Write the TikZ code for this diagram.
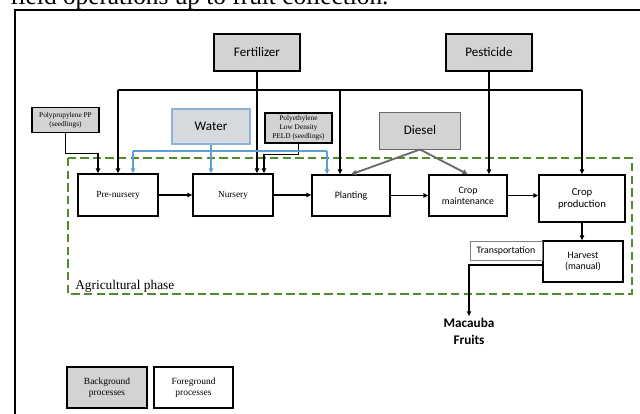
\documentclass[tikz,border=0pt]{standalone}
\usepackage{fontspec}
\setmainfont{Liberation Serif}
\setsansfont{Carlito}
\usepackage{tikz}
\usetikzlibrary{arrows.meta}
\definecolor{bggray}{RGB}{211,211,211}
\definecolor{wfill}{RGB}{214,217,221}
\definecolor{wdraw}{RGB}{140,178,212}
\definecolor{wline}{RGB}{92,160,210}
\definecolor{dgray}{RGB}{105,105,105}
\definecolor{phasegreen}{RGB}{80,140,42}

\begin{document}
\begin{tikzpicture}[x=0.025cm, y=-0.025cm,
        bgbox/.style={draw, fill=bggray, line width=0.9pt, inner sep=1pt, align=center},
        fgbox/.style={draw, fill=white, line width=0.9pt, inner sep=1pt, align=center},
        sfbig/.style={font=\sffamily\fontsize{9.3}{11}\selectfont},
        sfsmall/.style={font=\sffamily\fontsize{7}{7.8}\selectfont},
        rmsmall/.style={font=\fontsize{6.6}{7.8}\selectfont},
        rmtiny/.style={font=\fontsize{5.2}{6.3}\selectfont},
        conn/.style={line width=0.9pt},
        arr/.style={conn, -{Triangle[length=3.5pt,width=3pt]}},
        warr/.style={wline, line width=0.8pt, -{Triangle[length=3.5pt,width=3pt]}},
        darr/.style={dgray, line width=1.3pt, -{Triangle[length=4pt,width=3.5pt]}},
        phase/.style={phasegreen, line width=1.5pt, dash pattern=on 6pt off 3pt}
                            ]
        \useasboundingbox (0,0) rectangle (640,414);
        % caption line, cut by the page
        \node[anchor=base west, inner sep=0pt, font=\fontsize{18}{18}\selectfont] (caption) at (10,5) {field operations up to fruit collection.};
        % frame
        \draw[line width=1.4pt] (15,440) |- (660,10);
        % agricultural phase
        \draw[phase] (68,158) rectangle (632,294);
        \node[anchor=base west, inner sep=0pt, font=\fontsize{9.5}{11}\selectfont] (agri) at (75,289) {Agricultural phase};
        % background inputs
        \node[bgbox, sfbig, minimum width=2.15cm, minimum height=0.925cm] (fert) at (257,52.5) {Fertilizer};
        \node[bgbox, sfbig, minimum width=2.15cm, minimum height=0.925cm] (pest) at (489,52.5) {Pesticide};
        \node[bgbox, rmtiny, minimum width=1.675cm, minimum height=0.625cm] (pp) at (65.5,120) {Polypropylene PP\\(seedlings)};
        \node[bgbox, sfbig, draw=wdraw, fill=wfill, minimum width=1.95cm, minimum height=0.875cm] (water) at (211,126.5) {Water};
        \node[bgbox, rmtiny, minimum width=1.675cm, minimum height=0.75cm] (peld) at (298.5,128) {Polyethylene\\Low Density\\PELD (seedlings)};
        \node[bgbox, sfbig, draw=dgray, line width=0.7pt, minimum width=2cm, minimum height=0.925cm] (diesel) at (420,130.5) {Diesel};
        % foreground processes
        \node[fgbox, rmsmall, minimum width=2cm, minimum height=1.05cm] (prenurs) at (118,195) {Pre-nursery};
        \node[fgbox, rmsmall, minimum width=2cm, minimum height=1.05cm] (nurs) at (233,195) {Nursery};
        \node[fgbox, sfsmall, minimum width=1.95cm, minimum height=1.025cm] (plant) at (351,195.5) {Planting};
        \node[fgbox, sfsmall, minimum width=1.95cm, minimum height=1.025cm] (cmain) at (468,195.5) {Crop\\maintenance};
        \node[fgbox, sfsmall, font=\sffamily\fontsize{7.6}{8.6}\selectfont, minimum width=2.15cm, minimum height=1.175cm] (cprod) at (582,198.5) {Crop\\production};
        \node[fgbox, sfsmall, minimum width=2cm, minimum height=1.025cm] (harv) at (583,261.5) {Harvest\\(manual)};
        \node[draw=gray, line width=0.5pt, fill=white, sfsmall, inner sep=1pt, minimum width=1.8cm, minimum height=0.475cm] (transp) at (506,250.5) {Transportation};
        \node[font=\sffamily\bfseries\fontsize{9.4}{12}\selectfont, align=center, inner sep=1pt] (fruit) at (469,331) {Macauba\\Fruits};
        % legend
        \node[bgbox, font=\fontsize{6.7}{8}\selectfont, minimum width=2cm, minimum height=1.025cm] (legbg) at (107,387.5) {Background\\processes};
        \node[fgbox, font=\fontsize{6.7}{8}\selectfont, minimum width=1.975cm, minimum height=1.025cm] (legfg) at (193.5,387.5) {Foreground\\processes};
        % distribution line
        \coordinate (busl) at (118,90);
        \coordinate (busp) at (340,90);
        \coordinate (busr) at (582,90);
        \draw[conn] (busl) -- (busr);
        \draw[arr] (busl) -- (busl |- prenurs.north);
        \draw[arr] (busp) -- (busp |- plant.north);
        \draw[arr] (busr) -- (busr |- cprod.north);
        \draw[arr] (fert.south) -- (fert.south |- nurs.north);
        \draw[arr] (pest.south) -- (pest.south |- cmain.north);
        \draw[arr] (pp.south) -- ++(0,20) -| ([xshift=-0.5cm]prenurs.north);
        \draw[arr] (peld.south) -- ++(0,11) -| ([xshift=0.775cm]nurs.north);
        % water
        \coordinate (wl) at (133,151);
        \coordinate (wr) at (327,151);
        \draw[wline, line width=0.8pt] (wl) -- (wr);
        \draw[warr] (wl) -- (wl |- prenurs.north);
        \draw[warr] (water.south) -- (water.south |- nurs.north);
        \draw[warr] (wr) -- (wr |- plant.north);
        % diesel
        \draw[darr] (diesel.south) -- (plant.north);
        \draw[darr] (diesel.south) -- (cmain.north);
        % process chain
        \draw[arr] (prenurs.east) -- (prenurs.east -| nurs.west);
        \draw[arr] (nurs.east) -- (nurs.east -| plant.west);
        \draw[arr] (plant.east) -- (plant.east -| cmain.west);
        \draw[arr] (cmain.east) -- (cmain.east -| cprod.west);
        \draw[arr] (cprod.south) -- (cprod.south |- harv.north);
        \draw[arr, line width=1.3pt] ([yshift=-0.09cm]harv.west) -| (fruit.north);
    \end{tikzpicture}
\end{document}
